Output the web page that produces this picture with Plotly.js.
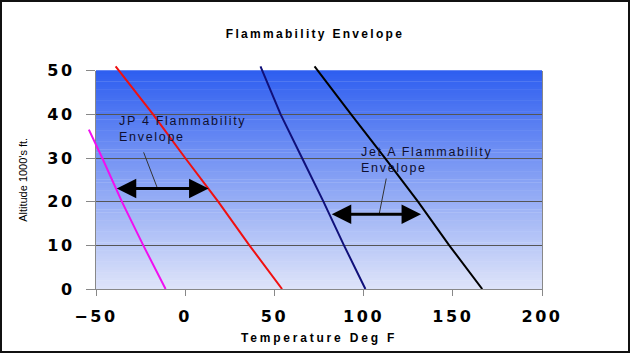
<!DOCTYPE html>
<html>
<head>
<meta charset="utf-8">
<script src="https://cdn.plot.ly/plotly-3.0.1.min.js"></script>
<style>
  html, body { margin: 0; padding: 0; background: #fff; }
  #wrap { position: relative; width: 630px; height: 353px; }
  #chart { width: 630px; height: 353px; }
  #frame { position: absolute; left: 0; top: 0; width: 630px; height: 353px; box-sizing: border-box;
           border: 2px solid #111; pointer-events: none; }
  .gtitle { letter-spacing: 2.3px; }
  .xtitle { letter-spacing: 2.8px; }
  .xtick text, .ytick text { letter-spacing: 2.6px; }
  .annotation-text { letter-spacing: 1.7px; }
</style>
</head>
<body>
<div id="wrap"><div id="chart"></div><div id="frame"></div></div>
<script>
// ---- data ----
const magentaTemp = [-54, -46.5, -35.5, -23.5, -11];
const magentaAlt  = [36.5, 30, 20, 10, 0];
const redTemp     = [-39, -18, 0, 18.5, 36, 54.3];
const redAlt      = [51, 40, 30, 20, 10, 0];
const blueTemp    = [42.2, 53.5, 65.5, 77.5, 89, 101];
const blueAlt     = [51, 40, 30, 20, 10, 0];
const blackTemp   = [72.5, 83, 93, 112, 130.5, 148, 166.5];
const blackAlt    = [51, 45.5, 40, 30, 20, 10, 0];

const xTickVals = [-50, 0, 50, 100, 150, 200];
const yTickVals = [0, 10, 20, 30, 40, 50];

const jp4Label  = 'JP 4 Flammability<br>Envelope';
const jetALabel = 'Jet A Flammability<br>Envelope';
const jp4LabelPos  = [-38.3, 40.6];
const jetALabelPos = [97.5, 33.4];
const jp4Arrow  = [-39.2, 13.1];   // temps of arrow tips
const jp4ArrowAlt = 23.0;
const jetAArrow = [81.3, 132.2];
const jetAArrowAlt = 17.1;
const jp4Leader  = [[-23.3, 31.3], [-15.5, 23.0]];
const jetALeader = [[112.7, 25.3], [108.8, 17.3]];

// ---- layout geometry ----
const M = {l: 80, r: 88, t: 58, b: 64};
const plotW = 630 - M.l - M.r, plotH = 353 - M.t - M.b;
const xd0 = 16 / plotW;            // main x domain start
const yd1 = 218.3 / plotH;         // main y domain end
const xMin = -50, xMax = 200, yMin = 0, yMax = 50;
const x2Min = xMin - (xMax - xMin) * xd0 / (1 - xd0);
const y2Max = yMin + (yMax - yMin) / yd1;

// background gradient bands
const shapes = [];
const N = 80;
const bgTop = [46, 94, 240], bgBot = [222, 228, 249];
for (let i = 0; i < N; i++) {
  const f = (i + 0.5) / N;
  const c = bgBot.map((b, k) => Math.round(b + (bgTop[k] - b) * f));
  shapes.push({type: 'rect', xref: 'x domain', yref: 'y domain', x0: 0, x1: 1,
    y0: i / N, y1: (i + 1) / N + 0.002, fillcolor: `rgb(${c.join(',')})`,
    line: {width: 0}, layer: 'below'});
}
[jp4Leader, jetALeader].forEach(L => shapes.push({type: 'line', xref: 'x', yref: 'y',
  x0: L[0][0], y0: L[0][1], x1: L[1][0], y1: L[1][1], line: {color: '#333', width: 1}}));

const mk = (x, y, color) => ({x, y, type: 'scatter', mode: 'lines', xaxis: 'x2', yaxis: 'y2',
  line: {color, width: 2}, hoverinfo: 'skip', showlegend: false});
const traces = [
  mk(magentaTemp, magentaAlt, '#f010f0'),
  mk(redTemp, redAlt, '#f01010'),
  mk(blueTemp, blueAlt, '#10107a'),
  mk(blackTemp, blackAlt, '#000000')
];

const annFont = {family: 'Liberation Sans, Arial, sans-serif', size: 12.5, color: '#0f0f30'};
const arrow = (t, alt) => ({x: t[1], y: alt, ax: t[0], ay: alt, xref: 'x', yref: 'y',
  axref: 'x', ayref: 'y', text: '', showarrow: true, arrowside: 'end+start',
  arrowhead: 2, arrowsize: 1.3, arrowwidth: 3, arrowcolor: '#000', standoff: 0, startstandoff: 0});
const annotations = [
  {x: jp4LabelPos[0], y: jp4LabelPos[1], xref: 'x', yref: 'y', text: jp4Label, showarrow: false,
   xanchor: 'left', yanchor: 'top', align: 'left', font: annFont},
  {x: jetALabelPos[0], y: jetALabelPos[1], xref: 'x', yref: 'y', text: jetALabel, showarrow: false,
   xanchor: 'left', yanchor: 'top', align: 'left', font: annFont},
  arrow(jp4Arrow, jp4ArrowAlt),
  arrow(jetAArrow, jetAArrowAlt)
];

const tickFont = {family: 'DejaVu Sans, sans-serif', size: 16, color: '#000', weight: 'bold'};
const layout = {
  width: 630, height: 353,
  margin: M,
  paper_bgcolor: '#fff',
  plot_bgcolor: 'rgba(0,0,0,0)',
  showlegend: false,
  title: {text: 'Flammability Envelope', x: 0.5, xref: 'container', y: 1 - 33.5 / 353,
          yref: 'container', xanchor: 'center', yanchor: 'middle',
          font: {family: 'Liberation Sans, Arial, sans-serif', size: 12, color: '#000', weight: 'bold'}},
  xaxis: {domain: [xd0, 1], range: [xMin, xMax], anchor: 'y', tickvals: xTickVals,
    showgrid: false, zeroline: false, showline: true, linecolor: '#888', linewidth: 1,
    ticks: 'outside', ticklen: 6, tickcolor: '#888', tickfont: tickFont, ticklabelstandoff: 7,
    title: {text: 'Temperature Deg F', standoff: 8,
            font: {family: 'Liberation Sans, Arial, sans-serif', size: 12, color: '#000', weight: 'bold'}},
    fixedrange: true},
  yaxis: {domain: [0, yd1], range: [yMin, yMax], anchor: 'x', tickvals: yTickVals,
    showgrid: true, gridcolor: '#555', gridwidth: 1, zeroline: false,
    showline: true, mirror: true, linecolor: '#888', linewidth: 1,
    ticks: 'outside', ticklen: 9, tickcolor: '#888', tickfont: tickFont, ticklabelstandoff: 8,
    title: {text: "Altitude 1000's ft.", standoff: 17,
            font: {family: 'Liberation Sans, Arial, sans-serif', size: 11, color: '#000'}},
    fixedrange: true},
  xaxis2: {domain: [0, 1], range: [x2Min, xMax], anchor: 'y2', visible: false, fixedrange: true},
  yaxis2: {domain: [0, 1], range: [yMin, y2Max], anchor: 'x2', visible: false, fixedrange: true},
  shapes, annotations
};

Plotly.newPlot('chart', traces, layout, {displayModeBar: false, staticPlot: true});
</script>
</body>
</html>
